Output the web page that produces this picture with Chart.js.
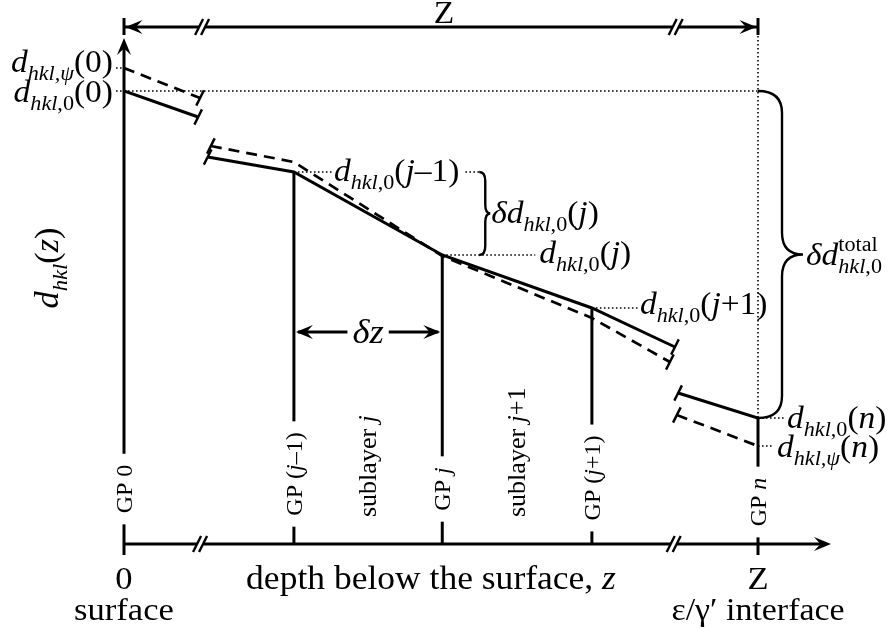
<!DOCTYPE html>
<html>
<head>
<meta charset="utf-8">
<script src="https://cdn.jsdelivr.net/npm/chart.js@4.4.1/dist/chart.umd.min.js"></script>
<style>
  html, body { margin: 0; padding: 0; background: #fff; }
  canvas { display: block; }
</style>
</head>
<body>
<canvas id="c" width="888" height="630"></canvas>
<script>
// Grid points, depth given as a fraction of the total depth Z
const gridDepth = [0, 0.268, 0.502, 0.738, 1];
const gridLabel = ['GP 0', 'GP (j–1)', 'GP j', 'GP (j+1)', 'GP n'];
const sublayerLabel = ['sublayer j', 'sublayer j+1'];

// Strain-free lattice spacing d_hkl,0(z); null marks a break in the depth axis
const d0Depth = [0, 0.117, null, 0.132, 0.268, 0.502, 0.738, 0.869, null, 0.874, 1];
const d0Value = [4.53, 4.27, null, 3.87, 3.72, 2.89, 2.36, 1.97, null, 1.51, 1.26];

// Measured lattice spacing d_hkl,psi(z)
const dPsiDepth = [0, 0.120, null, 0.137, 0.268, 0.502, 0.738, 0.861, null, 0.872, 1];
const dPsiValue = [4.76, 4.46, null, 3.98, 3.82, 2.88, 2.26, 1.82, null, 1.29, 0.98];

// Where the depth axis is interrupted
const axisBreaks = [0.12, 0.867];

const SERIF = '"Liberation Serif", "Times New Roman", serif';
const SX = 1.08;

function segments(xs, ys) {
  const segs = []; let cur = [];
  xs.forEach((x, i) => {
    if (x === null || ys[i] === null) { if (cur.length) segs.push(cur); cur = []; }
    else cur.push({ x: x, y: ys[i] });
  });
  if (cur.length) segs.push(cur);
  return segs;
}
const d0Segs = segments(d0Depth, d0Value);
const psiSegs = segments(dPsiDepth, dPsiValue);

const datasets = [];
d0Segs.forEach(s => datasets.push({ data: s, showLine: true, borderColor: '#000', borderWidth: 3, pointRadius: 0, borderDash: [] }));
psiSegs.forEach(s => datasets.push({ data: s, showLine: true, borderColor: '#000', borderWidth: 2.7, pointRadius: 0, borderDash: [11, 7] }));

// ---- rich text helpers (italics, sub/superscripts) ----
const P = (t, i, s) => ({ t: t, i: !!i, s: s || '' });
function fnt(size, it) { return (it ? 'italic ' : '') + size.toFixed(1) + 'px ' + SERIF; }
function layoutRich(ctx, parts, F) {
  let x = 0, mark = 0, maxX = 0; const items = [];
  for (const p of parts) {
    if (p.mark) { mark = x; continue; }
    if (p.back) { maxX = Math.max(maxX, x); x = mark; continue; }
    const size = p.s ? F * 0.66 : F;
    const dy = p.s === 'b' ? F * 0.27 : p.s === 'p' ? -F * 0.42 : 0;
    ctx.font = fnt(size, p.i);
    items.push({ t: p.t, font: ctx.font, x: x, dy: dy });
    x += ctx.measureText(p.t).width;
  }
  return { items: items, w: Math.max(x, maxX) };
}
function drawRich(ctx, parts, x, y, F, align, sx, rot) {
  sx = sx || SX;
  const L = layoutRich(ctx, parts, F);
  ctx.save();
  ctx.translate(x, y);
  if (rot) ctx.rotate(rot);
  ctx.scale(sx, 1);
  const x0 = align === 'right' ? -L.w : align === 'center' ? -L.w / 2 : 0;
  ctx.textBaseline = 'alphabetic'; ctx.textAlign = 'left'; ctx.fillStyle = '#000';
  for (const it of L.items) { ctx.font = it.font; ctx.fillText(it.t, x0 + it.x, it.dy); }
  ctx.restore();
  return L.w * sx;
}
function richWidth(ctx, parts, F, sx) { return layoutRich(ctx, parts, F).w * (sx || SX); }
// italicise the symbols j and n inside grid/sublayer labels
function symParts(str) {
  return str.split(/([jn])/).filter(s => s).map(s => P(s, s === 'j' || s === 'n'));
}

const hkl0 = [P('hkl', 1, 'b'), P(',0', 0, 'b')];
const hklPsi = [P('hkl,', 1, 'b'), P('ψ', 1, 'b')];
const lbl = {
  psi0: [P('d', 1), ...hklPsi, P('(0)')],
  d00: [P('d', 1), ...hkl0, P('(0)')],
  djm1: [P('d', 1), ...hkl0, P('('), P('j', 1), P('–1)')],
  ddj: [P('δ', 1), P('d', 1), ...hkl0, P('('), P('j', 1), P(')')],
  dj: [P('d', 1), ...hkl0, P('('), P('j', 1), P(')')],
  djp1: [P('d', 1), ...hkl0, P('('), P('j', 1), P('+1)')],
  dn: [P('d', 1), ...hkl0, P('('), P('n', 1), P(')')],
  psin: [P('d', 1), ...hklPsi, P('('), P('n', 1), P(')')],
  total: [P('δ', 1), P('d', 1), { mark: 1 }, P('total', 0, 'p'), { back: 1 }, ...hkl0],
  yaxis: [P('d', 1), P('hkl', 1, 'b'), P('('), P('z', 1), P(')')],
  dz: [P('δz', 1)]
};

// ---- drawing helpers ----
function line(ctx, x1, y1, x2, y2) { ctx.beginPath(); ctx.moveTo(x1, y1); ctx.lineTo(x2, y2); ctx.stroke(); }
function arrowHead(ctx, x, y, ang, len, half) {
  len = len || 16; half = half || 7;
  ctx.save(); ctx.translate(x, y); ctx.rotate(ang); ctx.fillStyle = '#000';
  ctx.beginPath(); ctx.moveTo(0, 0); ctx.lineTo(-len, -half); ctx.lineTo(-len * 0.62, 0); ctx.lineTo(-len, half);
  ctx.closePath(); ctx.fill(); ctx.restore();
}
function breakMark(ctx, x, y) {
  ctx.save();
  ctx.fillStyle = '#fff'; ctx.fillRect(x - 3, y - 3, 6, 6);
  ctx.lineWidth = 2.4; ctx.strokeStyle = '#000';
  line(ctx, x - 7, y + 8, x + 1, y - 8);
  line(ctx, x - 1, y + 8, x + 7, y - 8);
  ctx.restore();
}
function dotted(ctx, x1, y1, x2, y2) {
  ctx.save(); ctx.lineWidth = 1.6; ctx.setLineDash([1.6, 2.4]); ctx.strokeStyle = '#000';
  line(ctx, x1, y1, x2, y2); ctx.restore();
}
function brace(ctx, x0, y1, y2, colDx, tipDx, r) {
  const ym = (y1 + y2) / 2, xc = x0 + colDx, xt = x0 + tipDx;
  ctx.save(); ctx.lineWidth = 2.4; ctx.strokeStyle = '#000';
  ctx.beginPath();
  ctx.moveTo(x0, y1);
  ctx.quadraticCurveTo(xc, y1, xc, y1 + r);
  ctx.lineTo(xc, ym - r);
  ctx.quadraticCurveTo(xc, ym, xt, ym);
  ctx.quadraticCurveTo(xc, ym, xc, ym + r);
  ctx.lineTo(xc, y2 - r);
  ctx.quadraticCurveTo(xc, y2, x0, y2);
  ctx.stroke(); ctx.restore();
}
// vertical line from yA down to yB leaving a gap [g1, g2]
function vWithGap(ctx, x, yA, yB, g1, g2) {
  if (g1 > yA) line(ctx, x, yA, x, g1);
  if (g2 < yB) line(ctx, x, g2, x, yB);
}

const diagram = {
  id: 'diagram',
  afterDatasetsDraw(chart) {
    const ctx = chart.ctx, xs = chart.scales.x, ys = chart.scales.y, ca = chart.chartArea;
    const X = v => xs.getPixelForValue(v), Y = v => ys.getPixelForValue(v);
    const d0At = z => d0Value[d0Depth.indexOf(z)];
    const psiAt = z => dPsiValue[dPsiDepth.indexOf(z)];
    const x0 = X(0), xZ = X(1), yAx = Y(0), yTop = ca.top;
    const F = 31;

    ctx.save();
    ctx.strokeStyle = '#000'; ctx.fillStyle = '#000'; ctx.lineCap = 'butt';

    // break ticks at interrupted ends of the two profiles
    ctx.lineWidth = 2.4;
    [d0Segs, psiSegs].forEach(segs => segs.forEach(s => {
      [s[0], s[s.length - 1]].forEach(p => {
        if (p.x > 0 && p.x < 1) {
          const px = X(p.x), py = Y(p.y);
          line(ctx, px - 3.8, py + 7.6, px + 3.8, py - 7.6);
        }
      });
    }));

    // ---- top dimension line Z ----
    ctx.lineWidth = 3;
    line(ctx, x0, yTop, xZ, yTop);
    line(ctx, x0, yTop - 9, x0, yTop + 8);
    line(ctx, xZ, yTop - 9, xZ, yTop + 8);
    arrowHead(ctx, x0 + 1.5, yTop, Math.PI, 17, 7);
    arrowHead(ctx, xZ - 1.5, yTop, 0, 17, 7);
    axisBreaks.forEach(b => breakMark(ctx, X(b) + 2, yTop));
    drawRich(ctx, [P('Z')], (x0 + xZ) / 2 + 3, yTop - 4, 31, 'center');

    // dotted guide at the interface depth
    dotted(ctx, xZ, yTop + 9, xZ, Y(d0At(1)));

    // ---- depth axis ----
    ctx.lineWidth = 3;
    const tipX = xZ + 73;
    line(ctx, x0, yAx, tipX - 6, yAx);
    arrowHead(ctx, tipX, yAx, 0, 17, 7);
    axisBreaks.forEach(b => breakMark(ctx, X(b), yAx));

    // ---- grid point verticals with rotated labels ----
    const gpF = 24;
    const gpLift = [55, 70, 55, 66, 42];
    gridDepth.forEach((z, i) => {
      const x = X(z);
      const parts = symParts(gridLabel[i]);
      const L = richWidth(ctx, parts, gpF, 1);
      const yc = yAx - gpLift[i];
      const g1 = yc - L / 2 - 11, g2 = yc + L / 2 + 11;
      ctx.lineWidth = 3;
      const yStart = (i === 0) ? yTop + 20 : Y(d0At(z));
      const yEnd = (i === 0 || i === gridDepth.length - 1) ? yAx + 11 : yAx;
      vWithGap(ctx, x, yStart, yEnd, g1, g2);
      drawRich(ctx, parts, x + gpF * 0.34, yc, gpF, 'center', 1, -Math.PI / 2);
    });
    // y-axis arrow tip
    arrowHead(ctx, x0, yTop + 11, -Math.PI / 2, 17, 7);

    // sublayer labels, midway between neighbouring grid points
    [[1, 2], [2, 3]].forEach((pr, k) => {
      const x = (X(gridDepth[pr[0]]) + X(gridDepth[pr[1]])) / 2;
      drawRich(ctx, symParts(sublayerLabel[k]), x + 26 * 0.30, yAx - 27, 26, 'left', 1, -Math.PI / 2);
    });

    // ---- value leaders and labels ----
    const yP0 = Y(psiAt(0)), yD0 = Y(d0At(0));
    dotted(ctx, x0 - 8, yP0, x0, yP0);
    dotted(ctx, x0 - 8, yD0, xZ, yD0);
    drawRich(ctx, lbl.psi0, x0 - 11, yP0 + 4, F, 'right');
    drawRich(ctx, lbl.d00, x0 - 11, yD0 + 11, F, 'right');

    const xj1 = X(gridDepth[1]), yj1 = Y(d0At(gridDepth[1]));
    const xj = X(gridDepth[2]), yj = Y(d0At(gridDepth[2]));
    const xj2 = X(gridDepth[3]), yj2 = Y(d0At(gridDepth[3]));
    const xn = X(1), yn = Y(d0At(1)), ypn = Y(psiAt(1));

    dotted(ctx, xj1, yj1, xj1 + 38, yj1);
    const wj1 = drawRich(ctx, lbl.djm1, xj1 + 40, yj1 + 9, F, 'left');
    const bx = xj + 37;
    dotted(ctx, xj1 + 40 + wj1 + 6, yj1, bx, yj1);
    dotted(ctx, xj, yj, xj + 93, yj);
    brace(ctx, bx, yj1, yj, 6, 11, 9);
    drawRich(ctx, lbl.ddj, bx + 12, (yj1 + yj) / 2 + 9, F, 'left');
    drawRich(ctx, lbl.dj, xj + 97, yj + 8, F, 'left');

    dotted(ctx, xj2, yj2, xj2 + 46, yj2);
    drawRich(ctx, lbl.djp1, xj2 + 48, yj2 + 6, F, 'left');

    dotted(ctx, xn, yn, xn + 27, yn);
    drawRich(ctx, lbl.dn, xn + 29, yn + 10, F, 'left');
    dotted(ctx, xn, ypn, xn + 16, ypn);
    drawRich(ctx, lbl.psin, xn + 19, ypn + 11, F, 'left');

    brace(ctx, xZ, yD0, yn, 24, 45, 22);
    drawRich(ctx, lbl.total, xZ + 48, (yD0 + yn) / 2 + 10, F, 'left');

    // ---- sublayer thickness dz ----
    const yDz = Y(2.12);
    ctx.lineWidth = 3;
    const dzW = richWidth(ctx, lbl.dz, 34) + 10;
    const xm = (xj1 + xj) / 2;
    line(ctx, xj1 + 4, yDz, xm - dzW / 2, yDz);
    line(ctx, xm + dzW / 2, yDz, xj - 4, yDz);
    arrowHead(ctx, xj1 + 2, yDz, Math.PI, 17, 7);
    arrowHead(ctx, xj - 2, yDz, 0, 17, 7);
    drawRich(ctx, lbl.dz, xm, yDz + 11, 34, 'center');

    // ---- axis titles ----
    drawRich(ctx, lbl.yaxis, 48 + 33 * 0.3, 268, 33, 'center', 1.04, -Math.PI / 2);
    drawRich(ctx, [P('0')], x0, yAx + 45, 32, 'center');
    drawRich(ctx, [P('surface')], x0, yAx + 76, 32, 'center');
    drawRich(ctx, [P('depth below the surface, '), P('z', 1)], (x0 + xZ) / 2 - 10, yAx + 45, 33.5, 'center', 1.06);
    drawRich(ctx, [P('Z')], xZ, yAx + 45, 32, 'center');
    drawRich(ctx, [P('ε/γ′ interface')], xZ, yAx + 76, 32, 'center', 1.06);

    ctx.restore();
  }
};

new Chart(document.getElementById('c'), {
  type: 'scatter',
  data: { datasets: datasets },
  options: {
    responsive: false,
    animation: false,
    devicePixelRatio: 1,
    layout: { padding: { left: 124, right: 130, top: 27, bottom: 86 } },
    scales: {
      x: { type: 'linear', min: 0, max: 1, display: false },
      y: { type: 'linear', min: 0, max: 5.17, display: false }
    },
    elements: { line: { tension: 0, borderCapStyle: 'butt' } },
    plugins: { legend: { display: false }, tooltip: { enabled: false } }
  },
  plugins: [diagram]
});
</script>
</body>
</html>
